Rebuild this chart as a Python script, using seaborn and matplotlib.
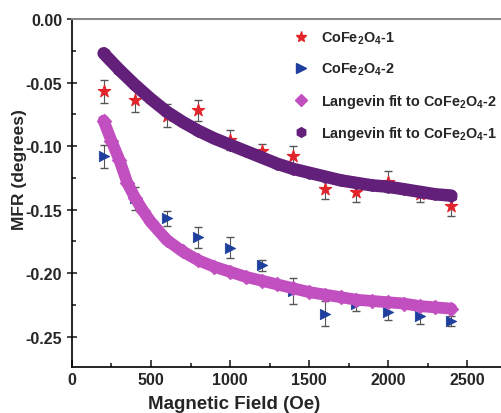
#MFR vs magnetic field for the two CoFe2O4 samples, with Langevin fits
import pandas as pd
import numpy as np
import matplotlib
import matplotlib.pyplot as plt
import seaborn as sns

sns.set_style('ticks')
matplotlib.rcParams['font.family'] = ['Liberation Sans', 'DejaVu Sans']
matplotlib.rcParams['font.weight'] = 'bold'
matplotlib.rcParams['mathtext.fontset'] = 'custom'
matplotlib.rcParams['mathtext.rm'] = 'Liberation Sans:bold'
matplotlib.rcParams['mathtext.bf'] = 'Liberation Sans:bold'
matplotlib.rcParams['mathtext.default'] = 'bf'

field = [200, 400, 600, 800, 1000, 1200, 1400, 1600, 1800, 2000, 2200, 2400]
mfr_1 = [-0.057, -0.064, -0.076, -0.072, -0.095, -0.104, -0.108, -0.134, -0.136, -0.128, -0.138, -0.147]
err_1 = [0.009, 0.009, 0.009, 0.008, 0.008, 0.006, 0.008, 0.008, 0.008, 0.008, 0.006, 0.008]
mfr_2 = [-0.108, -0.141, -0.157, -0.172, -0.180, -0.194, -0.214, -0.232, -0.224, -0.231, -0.234, -0.238]
err_2 = [0.009, 0.009, 0.006, 0.008, 0.008, 0.004, 0.010, 0.010, 0.006, 0.006, 0.006, 0.004]

# Langevin fit curves
fit_field_1 = [200, 300, 400, 500, 600, 700, 800, 900, 1000, 1100, 1200, 1300, 1400, 1500,
               1600, 1700, 1800, 1900, 2000, 2100, 2200, 2300, 2400]
fit_1 = [-0.027, -0.040, -0.052, -0.063, -0.073, -0.081, -0.088, -0.094, -0.099, -0.104, -0.109,
         -0.114, -0.118, -0.121, -0.124, -0.127, -0.129, -0.131, -0.132, -0.134, -0.136, -0.138, -0.139]
fit_field_2 = [200, 250, 300, 350, 400, 450, 500, 600, 700, 800, 900, 1000, 1100, 1200, 1300, 1400,
               1500, 1600, 1700, 1800, 1900, 2000, 2100, 2200, 2300, 2400]
fit_2 = [-0.080, -0.096, -0.111, -0.129, -0.141, -0.151, -0.160, -0.174, -0.183, -0.190, -0.195,
         -0.199, -0.203, -0.206, -0.209, -0.212, -0.215, -0.217, -0.219, -0.221, -0.222, -0.223,
         -0.224, -0.226, -0.227, -0.228]

labels = [r'CoFe$_2$O$_4$-1', r'CoFe$_2$O$_4$-2',
          r'Langevin fit to CoFe$_2$O$_4$-2', r'Langevin fit to CoFe$_2$O$_4$-1']

red = '#e3242b'
blue = '#1f3f9e'
magenta = '#c24fbf'
purple = '#63207a'

fig = plt.figure(figsize=(5.01, 4.14), dpi=100)
ax = fig.add_axes([0.1437, 0.111, 0.8563, 0.8406])

pts1 = pd.DataFrame({'field': field, 'mfr': mfr_1})
pts2 = pd.DataFrame({'field': field, 'mfr': mfr_2})
f1 = pd.DataFrame({'field': fit_field_1, 'mfr': fit_1})
f2 = pd.DataFrame({'field': fit_field_2, 'mfr': fit_2})

# error bars first so the markers sit on top
ax.errorbar(field, mfr_1, yerr=err_1, fmt='none', ecolor='#555555', elinewidth=0.8, capsize=3, zorder=1)
ax.errorbar(field, mfr_2, yerr=err_2, fmt='none', ecolor='#555555', elinewidth=0.8, capsize=3, zorder=1)

sns.scatterplot(data=pts1, x='field', y='mfr', marker='*', s=90, color=red, edgecolor=red, ax=ax, zorder=2)
sns.scatterplot(data=pts2, x='field', y='mfr', marker='>', s=55, color=blue, edgecolor=blue, ax=ax, zorder=2)

# fits drawn as a thick band of markers
sns.lineplot(data=f2, x='field', y='mfr', color=magenta, linewidth=8.5, ax=ax, zorder=3,
             solid_capstyle='round')
sns.scatterplot(data=f2, x='field', y='mfr', marker='D', s=55, color=magenta, edgecolor=magenta, ax=ax, zorder=3)
sns.lineplot(data=f1, x='field', y='mfr', color=purple, linewidth=9, ax=ax, zorder=3,
             solid_capstyle='round')
sns.scatterplot(data=f1, x='field', y='mfr', marker='h', s=75, color=purple, edgecolor=purple, ax=ax, zorder=3)

ax.set_xlim(0, 2715)
ax.set_ylim(-0.274, 0.0)
ax.set_xticks([0, 500, 1000, 1500, 2000, 2500])
ax.set_xticks([250, 750, 1250, 1750, 2250], minor=True)
ax.set_yticks([0.0, -0.05, -0.10, -0.15, -0.20, -0.25])
ax.set_yticks([-0.025, -0.075, -0.125, -0.175, -0.225], minor=True)
ax.set_yticklabels(['0.00', '-0.05', '-0.10', '-0.15', '-0.20', '-0.25'])
ax.tick_params(which='both', direction='in', labelsize=11.5, width=1.2)
ax.tick_params(which='major', length=5)
ax.tick_params(which='minor', length=3)
ax.tick_params(axis='y', which='major', direction='inout', length=7)

ax.spines['right'].set_visible(False)
ax.spines['top'].set_color('#888888')
ax.spines['top'].set_linewidth(1.5)
for s in ['left', 'bottom']:
    ax.spines[s].set_color('black')
    ax.spines[s].set_linewidth(1.2)

ax.set_xlabel('Magnetic Field (Oe)', fontsize=13.5, fontweight='bold')
ax.set_ylabel('MFR (degrees)', fontsize=12.5, fontweight='bold')
ax.xaxis.set_label_coords(0.378, -0.08)
ax.yaxis.set_label_coords(-0.105, 0.57)

handles = [
    plt.Line2D([], [], ls='none', marker='*', ms=8, color=red),
    plt.Line2D([], [], ls='none', marker='>', ms=7, color=blue),
    plt.Line2D([], [], ls='none', marker='D', ms=6, color=magenta),
    plt.Line2D([], [], ls='none', marker='h', ms=7, color=purple),
]
ax.legend(handles, labels, loc='upper left', bbox_to_anchor=(0.487, 0.985), frameon=False,
          fontsize=10.4, handletextpad=0.4, labelspacing=1.0, borderaxespad=0)

plt.savefig('out.png', dpi=100)
